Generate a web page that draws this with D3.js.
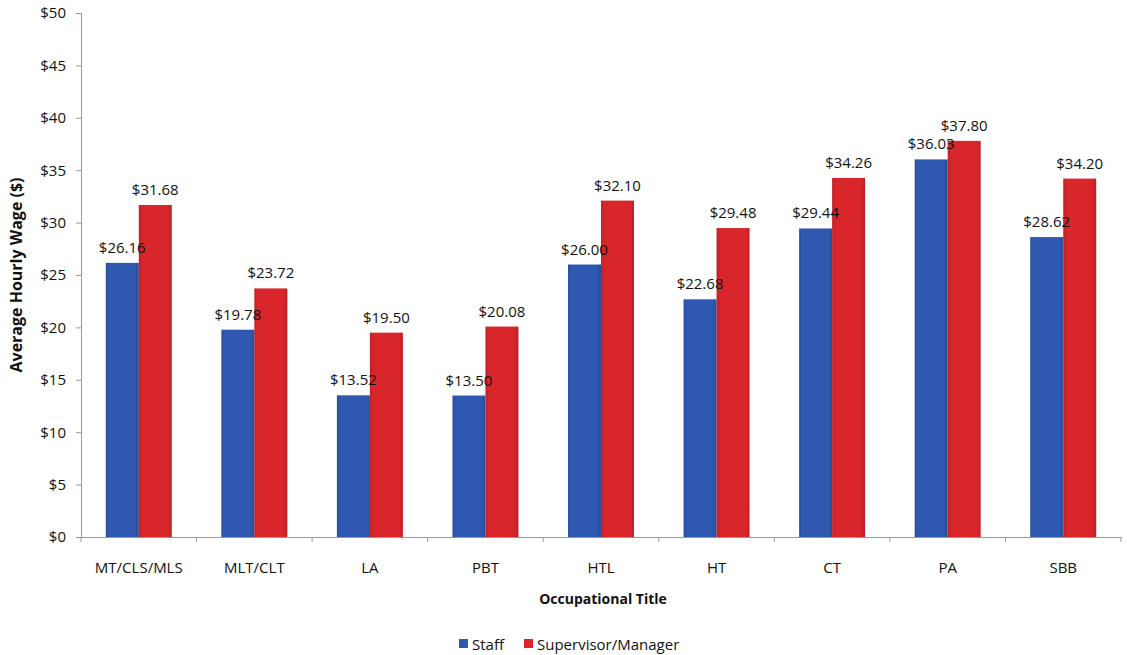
<!DOCTYPE html>
<html>
<head>
<meta charset="utf-8">
<script src="https://cdn.jsdelivr.net/npm/d3@7"></script>
<style>
  body { margin: 0; background: #fff; }
  svg text { font-family: "Open Sans", "Noto Sans", sans-serif; fill: #111; }
</style>
</head>
<body>
<svg id="svg" width="1127" height="655"></svg>
<script>
const categories = ['MT/CLS/MLS', 'MLT/CLT', 'LA', 'PBT', 'HTL', 'HT', 'CT', 'PA', 'SBB'];
const staff = [26.16, 19.78, 13.52, 13.50, 26.00, 22.68, 29.44, 36.03, 28.62];
const supervisor = [31.68, 23.72, 19.50, 20.08, 32.10, 29.48, 34.26, 37.80, 34.20];
const seriesNames = ['Staff', 'Supervisor/Manager'];
const seriesColours = ['#2f58b0', '#d8262b'];
const yTicks = [0, 5, 10, 15, 20, 25, 30, 35, 40, 45, 50];

const margin = {left: 81, top: 13, right: 6, bottom: 118};
const width = 1127 - margin.left - margin.right;
const height = 655 - margin.top - margin.bottom;
const barW = 33;

const svg = d3.select('#svg');

// gradients for the bevelled look
const defs = svg.append('defs');
seriesColours.forEach((c, i) => {
  const g = defs.append('linearGradient').attr('id', 'grad' + i)
    .attr('x1', 0).attr('x2', 1).attr('y1', 0).attr('y2', 0);
  g.append('stop').attr('offset', '0%').attr('stop-color', d3.color(c).darker(0.3));
  g.append('stop').attr('offset', '12%').attr('stop-color', c);
  g.append('stop').attr('offset', '88%').attr('stop-color', c);
  g.append('stop').attr('offset', '100%').attr('stop-color', d3.color(c).darker(0.4));
});

const chart = svg.append('g')
  .attr('transform', `translate(${margin.left},${margin.top})`);

const xScale = d3.scaleBand()
  .domain(categories)
  .range([0, width]);

const yScale = d3.scaleLinear()
  .domain([0, 50])
  .range([height, 0]);

const yAxis = d3.axisLeft(yScale)
  .tickValues(yTicks)
  .tickSize(5)
  .tickPadding(10)
  .tickFormat(d => '$' + d);

const yAxisG = chart.append('g').attr('class', 'y-axis').call(yAxis);
yAxisG.selectAll('text').style('font-size', '15px').style('fill', '#111');
yAxisG.selectAll('line, path').attr('stroke', '#999');

const xAxisG = chart.append('g')
  .attr('class', 'x-axis')
  .attr('transform', `translate(0,${height})`)
  .call(d3.axisBottom(xScale).tickSize(0).tickPadding(25));
xAxisG.select('path.domain').attr('stroke', '#999');
xAxisG.selectAll('text').style('font-size', '15px').style('fill', '#111');

// boundary ticks between categories
xAxisG.selectAll('.bound')
  .data(d3.range(categories.length + 1))
  .join('line')
  .attr('class', 'bound')
  .attr('x1', i => i * xScale.bandwidth())
  .attr('x2', i => i * xScale.bandwidth())
  .attr('y1', 0).attr('y2', 5)
  .attr('stroke', '#999');

const rows = [];
categories.forEach((c, i) => {
  rows.push({cat: c, s: 0, v: staff[i]});
  rows.push({cat: c, s: 1, v: supervisor[i]});
});

const barX = d => xScale(d.cat) + xScale.bandwidth() / 2 - barW + d.s * barW;

chart.selectAll('.bar')
  .data(rows)
  .join('rect')
  .attr('class', 'bar')
  .attr('x', barX)
  .attr('y', d => yScale(d.v))
  .attr('width', barW)
  .attr('height', d => height - yScale(d.v))
  .attr('fill', d => `url(#grad${d.s})`);

chart.selectAll('.barLabel')
  .data(rows)
  .join('text')
  .attr('class', 'barLabel')
  .attr('x', d => barX(d) + barW / 2)
  .attr('y', d => yScale(d.v) - 10)
  .attr('text-anchor', 'middle')
  .style('font-size', '15px')
  .text(d => '$' + d.v.toFixed(2));

// axis titles
svg.append('text')
  .attr('transform', `translate(22,${margin.top + height / 2}) rotate(-90)`)
  .attr('text-anchor', 'middle')
  .style('font-size', '16px')
  .style('font-weight', 700)
  .text('Average Hourly Wage ($)');

svg.append('text')
  .attr('x', 603)
  .attr('y', 604)
  .attr('text-anchor', 'middle')
  .style('font-size', '14px')
  .style('font-weight', 700)
  .text('Occupational Title');

// legend
const legend = svg.append('g').attr('transform', 'translate(459,650)');
const legendX = [0, 65];
seriesNames.forEach((n, i) => {
  legend.append('rect')
    .attr('x', legendX[i]).attr('y', -11)
    .attr('width', 9).attr('height', 9)
    .attr('fill', seriesColours[i]);
  legend.append('text')
    .attr('x', legendX[i] + 13).attr('y', 0)
    .style('font-size', '15px')
    .text(n);
});
</script>
</body>
</html>
